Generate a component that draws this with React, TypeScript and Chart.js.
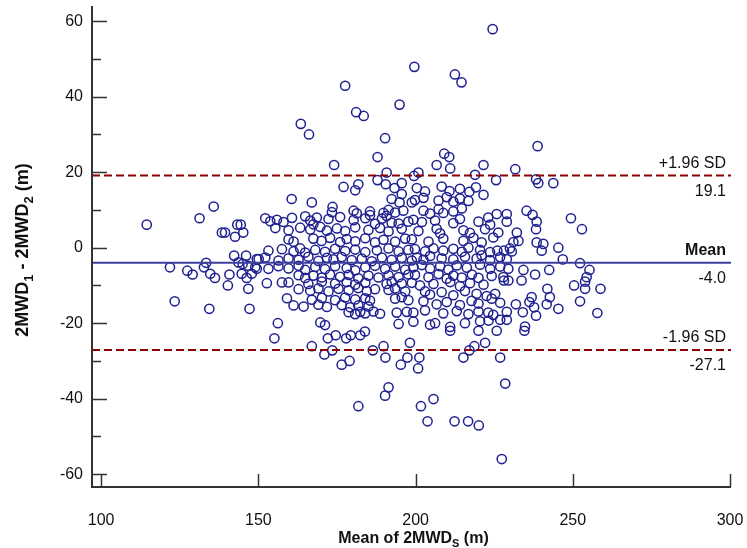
import { useEffect, useRef } from "react";
import { Chart, registerables } from "chart.js";

Chart.register(...registerables);

// ---- axis ranges & ticks ----
const X_MIN = 97.1;
const X_MAX = 300.3;
const Y_MIN = -63.4;
const Y_MAX = 64;
const xTickValues = [100, 150, 200, 250, 300];
const yTickValues = [-60, -40, -20, 0, 20, 40, 60];
const yMinorTickValues = [-50, -30, -10, 10, 30, 50];

// ---- Bland-Altman statistics ----
const meanDiff = -4.0;
const upperLoA = 19.1;
const lowerLoA = -27.1;

// ---- points: [mean of 2MWDs, 2MWD1 - 2MWD2] ----
const topPoints: [number, number][] = [
  [224.5, 57.9], [199.6, 47.9], [212.5, 45.9], [214.6, 43.8], [177.6, 42.9], [194.9, 37.9],
  [181.1, 35.9], [183.5, 34.9], [163.5, 32.8], [166.1, 30.0], [190.3, 29.0], [238.8, 26.9],
  [187.9, 24.0], [209.1, 24.9], [210.7, 24.0], [174.1, 21.9], [190.8, 19.9], [187.9, 17.9],
  [177.1, 16.1], [180.8, 15.2], [181.8, 16.8], [190.5, 16.8], [193.3, 15.8], [195.6, 17.1],
  [206.7, 21.9], [211, 21], [221.6, 21.9], [231.7, 20.8],
  [199.5, 19], [200.9, 19.9], [218.9, 19.3], [225.6, 17.9], [238.3, 18.1], [239, 17.1], [243.8, 17.1],
  [200.4, 15.8], [203, 14.9], [208.3, 16.2], [210.8, 15], [214.1, 15.6], [217.1, 14.8], [219.2, 16], [221.6, 14],
];

const upperPoints: [number, number][] = [
  [160.6, 12.9], [167, 12], [173.6, 10.8], [192.4, 12.9], [194.9, 12], [195.6, 14.2], [198.8, 12],
  [199.8, 12.6], [202.5, 13.2], [207.3, 12.5], [209.9, 13.4], [212, 12.2], [214.1, 13], [216.8, 12.4],
  [173.4, 9.4], [180.3, 9.8], [181.3, 9.1], [185.5, 9.6], [189.8, 9.2], [191.4, 10], [193.5, 9.3], [196.1, 9.8],
  [202.5, 9.8], [204.6, 9], [207.3, 10.2], [208.8, 9.2], [212, 9.6], [214.7, 10.4], [223.1, 8], [225.8, 8.9],
  [229, 8.9], [235.3, 9.8], [237.2, 8.7],
  [152.2, 7.8], [153.8, 7], [155.9, 7.4], [158, 6.8], [160.7, 7.9], [164.9, 8.3], [166.5, 7.2], [168.6, 8],
  [172.3, 7.6], [176, 8.1], [180.3, 7.3], [184, 7.8], [185.5, 8.6], [189.3, 7.7], [190.8, 8.4],
  [167.5, 6.2], [187.1, 6.3], [192.4, 6.6], [194.6, 6.4], [197.7, 6.9],
  [199.3, 7.4], [202, 6.8], [206.2, 7.2], [212, 6.5], [214.1, 7.6], [220, 6.9], [223.7, 6.1], [229, 6.9], [238.5, 6.9],
  [155.4, 5.2], [159.6, 4.6], [163.3, 5.3], [166.5, 4.8], [169.7, 5.5], [171.8, 4.5], [175, 5.1], [177.6, 4.4],
  [180.8, 5.4], [185, 4.7], [188.7, 5.2], [191.4, 4.3], [195.6, 5],
  [200.9, 4.4], [206.7, 5], [207.8, 3.8], [215.2, 4.6], [217.3, 3.9], [222.1, 4.9], [226.3, 4], [232.2, 4], [238.3, 4.9],
  [159.6, 2.2], [161.2, 1.6], [167.5, 2.4], [170.1, 1.8], [172.8, 2.6], [176, 1.5], [178.1, 2.3], [180.8, 1.7],
  [184, 2.5], [187.1, 1.4], [189.8, 2.1], [193.5, 1.6], [196.7, 2.4],
  [198.8, 2.2], [204.1, 1.6], [208.8, 2.4], [215.2, 1.8], [218.4, 2.6], [221, 1.4], [224.7, 2.7], [231.1, 1.5],
  [232.7, 1.8], [238.5, 1.4], [240.6, 1],
];

const middlePoints: [number, number][] = [
  [153.2, -0.8], [157.5, -0.4], [161.2, -1], [163.3, -0.2], [164.9, -1.3], [168.1, -0.6], [171.2, -1.1], [174.4, -0.3],
  [177.6, -0.9], [180.8, -0.5], [184, -1.2], [187.7, -0.7], [191.4, -0.2], [194.6, -1], [197.7, -0.6],
  [199.8, -0.4], [203, -1], [205.7, -0.2], [208.8, -0.8], [212, -0.3], [214.7, -1.1], [216.8, 0], [220.5, -0.6],
  [223.7, -1.2], [226, -0.8], [228.1, -0.8], [230, -0.2], [230.6, -1], [240.1, -0.8], [245.4, 0],
  [150.1, -3], [152.2, -2.6], [156.4, -3.4], [159.6, -2.8], [162.8, -3.2], [165.9, -2.4], [169.1, -3.5], [171.8, -2.7],
  [173.9, -3.1], [176.5, -2.5], [179.7, -3.3], [182.9, -2.9], [186.1, -3.6], [189.3, -2.6], [192.4, -3.2], [195.6, -2.7],
  [198.8, -3.4],
  [200.4, -2.6], [202.5, -3.2], [204.6, -2.2], [208.3, -2.8], [212, -3.1], [215.7, -2.4], [219.4, -2.9], [221, -2],
  [223.7, -3.3], [226.9, -2.5], [229, -3], [246.8, -3.1],
  [149, -5.2], [153.2, -5.6], [156.4, -4.9], [159.6, -5.5], [162.8, -4.8], [164.9, -5.9], [168.1, -5.1], [171.2, -5.7],
  [174.4, -4.9], [178.1, -5.4], [180.8, -6], [184, -5.2], [187.1, -4.8], [190.3, -5.6], [193.5, -5], [196.7, -5.8],
  [199.3, -5.2], [202, -4.6], [204.6, -5.5], [207.8, -4.9], [210.4, -5.8], [213.1, -4.7], [216.3, -5.3], [220.5, -4.5],
  [223.7, -5.6], [226.9, -5], [229.5, -5.6], [234.3, -5.9], [242.5, -5.9],
  [162.8, -7.3], [164.9, -8], [167.5, -7.4], [170.2, -7.9], [172.8, -7.1], [176, -7.7], [178.7, -7.2], [181.8, -8.1],
  [185, -7.4], [188.2, -7.9], [191.4, -7.3], [194.6, -7.8], [197.7, -7.1],
  [199.8, -7.2], [204.1, -7.8], [207.3, -7], [209.9, -8.2], [212, -7.4], [214.7, -7.9], [217.9, -7.1], [220, -8],
  [224.2, -7.5], [227.9, -7.8], [238, -7.1],
];

const lowerPoints: [number, number][] = [
  [152.7, -9.4], [157.5, -9.2], [159.6, -9.2], [165.9, -9.6], [170.2, -9], [174.4, -9.5], [178.1, -9.1], [180.8, -9.8],
  [184, -9.3], [190.8, -9.6], [192.4, -9], [195.6, -9.5],
  [198.8, -9.3], [201.4, -10], [205.7, -9.6], [211, -9.1], [214.1, -10.2], [217.3, -9.4], [221.6, -9.8], [228.1, -8.7],
  [229.5, -8.7], [233.7, -8.7], [241.9, -10.9],
  [162.8, -11], [166.5, -11.4], [169.1, -10.8], [172.3, -11.6], [175.5, -10.9], [178.7, -11.3], [181.8, -10.7],
  [184.5, -11.5], [187.1, -11], [191.4, -11.2], [193.5, -10.8], [196.7, -11.6],
  [203, -11.6], [204.6, -12.4], [208.3, -11.8], [212, -12.6], [215.7, -11.5], [219.4, -12.2], [222.6, -12.8],
  [225.3, -12.2], [236.9, -13.1], [242.7, -13.1],
  [159.1, -13.4], [167, -13.8], [170.2, -13.3], [174.4, -13.9], [177.6, -13.2], [180.8, -13.7], [184, -13.4],
  [185.5, -14], [193.5, -13.5], [195.6, -13.1], [197.7, -13.9],
  [202.5, -14.2], [206.7, -15], [209.9, -14.4], [214.1, -15.2], [217.8, -14.1], [220, -14.8], [224.2, -13.5],
  [226.9, -14.6], [231.9, -15], [236.2, -14.4], [241.7, -15], [245.4, -16.2],
  [161.2, -15.3], [164.4, -15.6], [169.1, -15.1], [171.8, -15.7], [176.5, -15.2], [179.2, -15.8], [181.8, -15.3], [185, -15.6],
  [178.7, -17.1], [180.8, -17.6], [182.4, -17], [184, -17.4], [186.6, -16.9], [188.7, -17.5], [194, -17.2], [197.2, -17],
  [199.3, -17.2], [203, -16.6], [208.8, -17.4], [213.1, -16.8], [216.8, -17.6], [220, -16.9], [223.1, -17.2],
  [224.7, -17.8], [229, -17], [237.7, -15.8], [238.3, -18], [234.1, -17.1],
  [156.2, -20], [169.7, -19.8], [171.2, -20.5], [194.6, -20.2],
  [199.3, -19.6], [204.6, -20.4], [206.2, -20], [211, -21], [215.7, -20], [220.5, -19.5], [226.9, -19.1], [229, -19.1],
  [234.8, -20.9], [223.2, -19.3], [234.6, -22],
];

const bottomPoints: [number, number][] = [
  [155.1, -24], [167, -26.1], [172.1, -24], [174.6, -23.2], [177.9, -24], [179.4, -23.2], [182.4, -23.2], [183.9, -22.2],
  [171, -28.3], [173.5, -27.2], [176.5, -31], [179, -30], [186.4, -27.2], [189.8, -26.1], [190.4, -29.1], [198.2, -25.2],
  [197.4, -29.1], [195.3, -31], [201.2, -29.1], [200.8, -32], [191.4, -37], [190.3, -39.2], [181.8, -42], [201.7, -42],
  [205.7, -40.1], [203.8, -46], [212.4, -46], [216.7, -46], [220.1, -47.1], [227.4, -56], [228.5, -36], [215.2, -29.1],
  [217.1, -27.2], [218.7, -26.1], [222.1, -25.2], [226.9, -29.1], [211, -22], [220, -22], [225.8, -22],
];

const leftPoints: [number, number][] = [
  [114.5, 6.1], [131.3, 7.8], [135.8, 10.9], [138.4, 4], [139.4, 4], [143.3, 6.1], [144.4, 6.1], [145.2, 4],
  [142.6, 2.9], [142.3, -2.1], [146.1, -2.1], [149.5, -3], [133.4, -4], [121.9, -5.2], [127.4, -6.1], [129.1, -7.1],
  [132.7, -5.2], [134.7, -6.9], [136.2, -8], [140.8, -7.1], [143.7, -3.9], [145, -4.3], [146.8, -4.8], [147.9, -6.9],
  [144.7, -6.9], [146.3, -8], [149.5, -5.6], [140.3, -10], [146.8, -10.9], [123.4, -14.2], [134.4, -16.2], [147.2, -16.2],
];

const rightPoints: [number, number][] = [
  [249.4, 7.8], [252.9, 4.9], [252.3, -4.1], [255.3, -5.9], [254.4, -7.8], [253.9, -9], [250.4, -10],
  [253.9, -10.9], [258.8, -10.9], [252.3, -14.2], [257.8, -17.3],
];

const FONT = '"Liberation Sans", Arial, Helvetica, sans-serif';
const AXIS_COLOR = "#333333";
const POINT_COLOR = "#1e2090";
const MEAN_COLOR = "#3d3f9c";
const LOA_COLOR = "#8b0000";

type Part = { t: string; sub?: boolean };
const yTitleParts: Part[] = [
  { t: "2MWD" }, { t: "1", sub: true }, { t: " - 2MWD" }, { t: "2", sub: true }, { t: " (m)" },
];
const xTitleParts: Part[] = [{ t: "Mean of 2MWD" }, { t: "S", sub: true }, { t: " (m)" }];

function drawRich(ctx: CanvasRenderingContext2D, parts: Part[], x: number, y: number, size: number) {
  const main = `bold ${size}px ${FONT}`;
  const sub = `bold ${Math.round(size * 0.7)}px ${FONT}`;
  let total = 0;
  for (const p of parts) {
    ctx.font = p.sub ? sub : main;
    total += ctx.measureText(p.t).width;
  }
  let cx = x - total / 2;
  ctx.textAlign = "left";
  ctx.textBaseline = "alphabetic";
  for (const p of parts) {
    ctx.font = p.sub ? sub : main;
    ctx.fillText(p.t, cx, p.sub ? y + size * 0.27 : y);
    cx += ctx.measureText(p.t).width;
  }
}

const zeroPadding = (s: any) => {
  s.paddingTop = 0;
  s.paddingBottom = 0;
  s.paddingLeft = 0;
  s.paddingRight = 0;
};

const decorPlugin = {
  id: "decor",
  afterDatasetsDraw(chart: any) {
    const { ctx, chartArea, scales } = chart;
    const xs = scales.x;
    const ys = scales.y;
    const { left, right, top, bottom } = chartArea;
    ctx.save();
    // axes
    ctx.strokeStyle = AXIS_COLOR;
    ctx.lineWidth = 2;
    ctx.beginPath();
    ctx.moveTo(left, top);
    ctx.lineTo(left, bottom);
    ctx.lineTo(right, bottom);
    ctx.stroke();
    // inward ticks
    ctx.lineWidth = 1.5;
    ctx.beginPath();
    for (const v of yTickValues) {
      const py = Math.round(ys.getPixelForValue(v)) + 0.5;
      ctx.moveTo(left, py);
      ctx.lineTo(left + 15, py);
    }
    for (const v of yMinorTickValues) {
      const py = Math.round(ys.getPixelForValue(v)) + 0.5;
      ctx.moveTo(left, py);
      ctx.lineTo(left + 9, py);
    }
    for (const v of xTickValues) {
      const px = Math.round(xs.getPixelForValue(v)) + 0.5;
      ctx.moveTo(px, bottom);
      ctx.lineTo(px, bottom - 13);
    }
    ctx.stroke();

    // reference line labels
    ctx.fillStyle = "#111";
    ctx.textAlign = "right";
    const rx = right - 5;
    const labelRows: { v: number; above: string; below: string; boldAbove: boolean }[] = [
      { v: upperLoA, above: "+1.96 SD", below: upperLoA.toFixed(1), boldAbove: false },
      { v: meanDiff, above: "Mean", below: meanDiff.toFixed(1), boldAbove: true },
      { v: lowerLoA, above: "-1.96 SD", below: lowerLoA.toFixed(1), boldAbove: false },
    ];
    for (const r of labelRows) {
      const py = ys.getPixelForValue(r.v);
      ctx.font = `${r.boldAbove ? "bold " : ""}16px ${FONT}`;
      ctx.textBaseline = "alphabetic";
      ctx.fillText(r.above, rx, py - 8);
      ctx.font = `16px ${FONT}`;
      ctx.textBaseline = "top";
      ctx.fillText(r.below, rx, py + 8);
    }

    // axis titles
    ctx.fillStyle = "#111";
    drawRich(ctx, xTitleParts, (left + right) / 2 + 2, 543, 16);
    ctx.save();
    ctx.translate(22, 250);
    ctx.rotate(-Math.PI / 2);
    drawRich(ctx, yTitleParts, 0, 6, 18);
    ctx.restore();
    ctx.restore();
  },
};

export default function App() {
  const canvasRef = useRef<HTMLCanvasElement | null>(null);

  useEffect(() => {
    document.body.style.margin = "0";
    const canvas = canvasRef.current;
    if (!canvas) return;
    const allPoints = [
      ...topPoints, ...upperPoints, ...middlePoints, ...lowerPoints, ...bottomPoints, ...leftPoints, ...rightPoints,
    ].map(([x, y]) => ({ x, y }));

    const refLine = (v: number) => [
      { x: X_MIN, y: v },
      { x: X_MAX, y: v },
    ];

    const chart = new Chart(canvas, {
      type: "scatter",
      data: {
        datasets: [
          {
            type: "scatter",
            label: "Differences",
            data: allPoints,
            pointStyle: "circle",
            pointRadius: 4.6,
            pointBorderWidth: 1.5,
            pointBorderColor: POINT_COLOR,
            pointBackgroundColor: "rgba(0,0,0,0)",
            order: 2,
          } as any,
          {
            type: "line",
            label: "Mean",
            data: refLine(meanDiff),
            borderColor: MEAN_COLOR,
            borderWidth: 2,
            pointRadius: 0,
            order: 0,
          } as any,
          {
            type: "line",
            label: "+1.96 SD",
            data: refLine(upperLoA),
            borderColor: LOA_COLOR,
            borderWidth: 2,
            borderDash: [8, 4],
            pointRadius: 0,
            order: 0,
          } as any,
          {
            type: "line",
            label: "-1.96 SD",
            data: refLine(lowerLoA),
            borderColor: LOA_COLOR,
            borderWidth: 2,
            borderDash: [8, 4],
            pointRadius: 0,
            order: 0,
          } as any,
        ],
      },
      options: {
        responsive: false,
        animation: false,
        devicePixelRatio: 1,
        layout: { padding: { top: 5, right: 16, left: 0, bottom: 0 } },
        plugins: { legend: { display: false }, tooltip: { enabled: false } },
        scales: {
          x: {
            type: "linear",
            min: X_MIN,
            max: X_MAX,
            grid: { display: false, drawTicks: false },
            border: { display: false },
            ticks: { font: { size: 16, family: FONT }, color: "#111", padding: 24 },
            afterBuildTicks: (s: any) => {
              s.ticks = xTickValues.map((v) => ({ value: v }));
            },
            afterFit: (s: any) => {
              s.height = 61;
              zeroPadding(s);
            },
          },
          y: {
            type: "linear",
            min: Y_MIN,
            max: Y_MAX,
            grid: { display: false, drawTicks: false },
            border: { display: false },
            ticks: { font: { size: 16, family: FONT }, color: "#111", padding: 9 },
            afterBuildTicks: (s: any) => {
              s.ticks = yTickValues.map((v) => ({ value: v }));
            },
            afterFit: (s: any) => {
              s.width = 92;
              zeroPadding(s);
            },
          },
        },
      } as any,
      plugins: [decorPlugin],
    });
    return () => chart.destroy();
  }, []);

  return (
    <div style={{ width: 747, height: 548, background: "#fff" }}>
      <canvas ref={canvasRef} width={747} height={548} style={{ display: "block" }} />
    </div>
  );
}
